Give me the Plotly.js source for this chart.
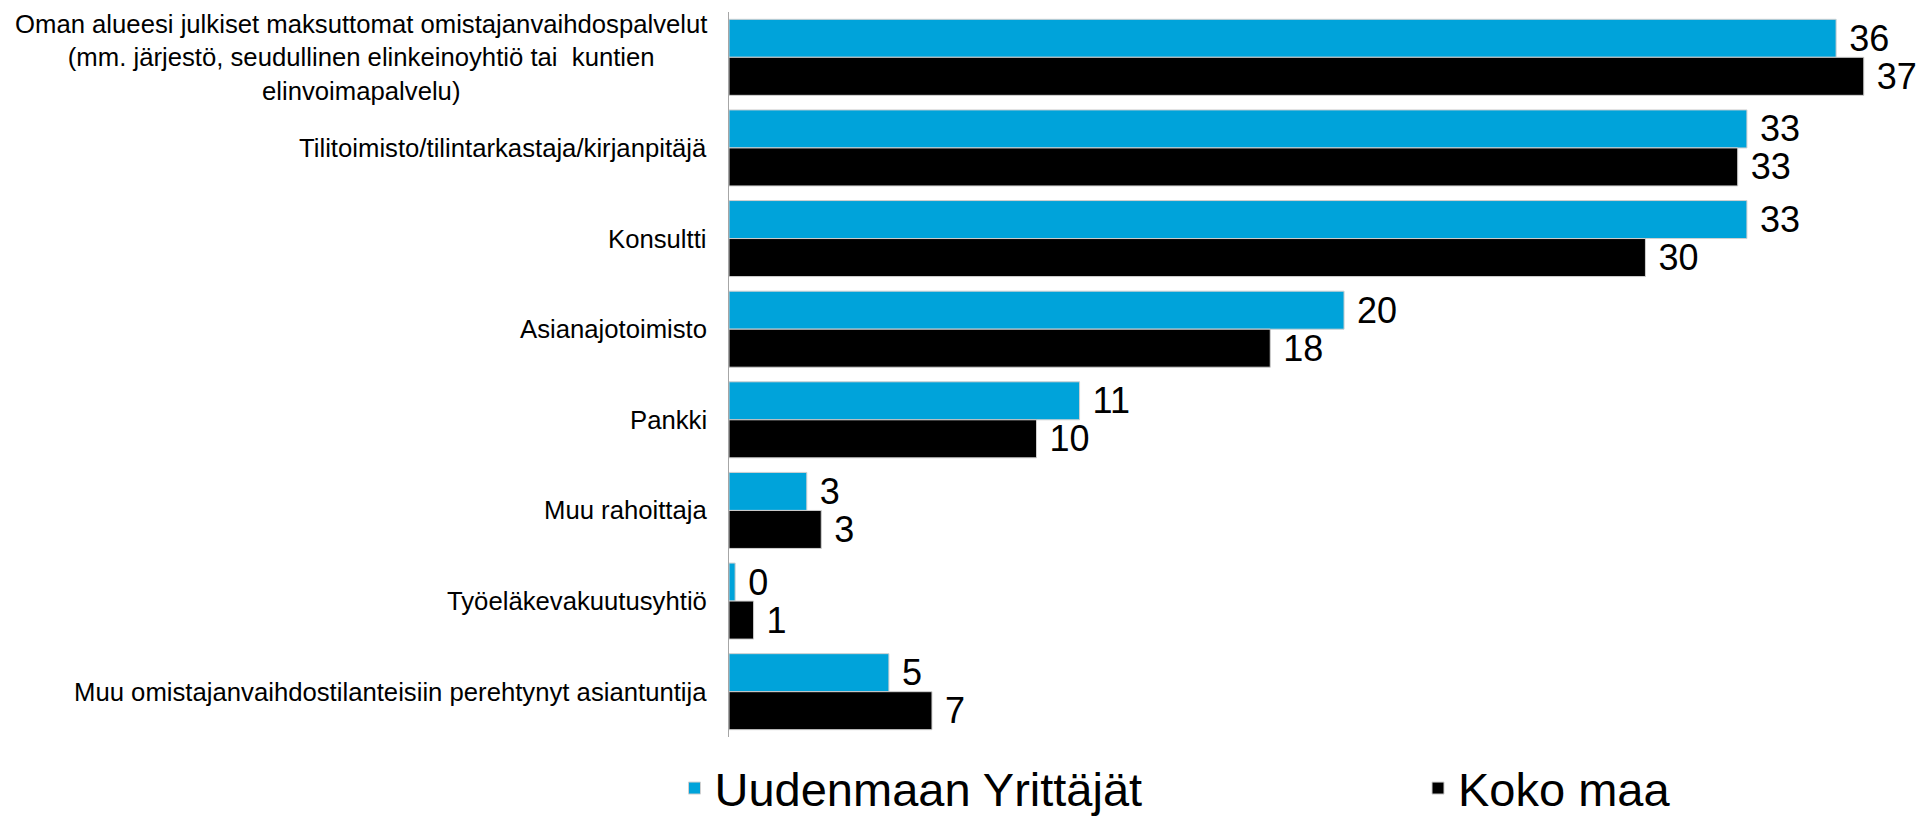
<!DOCTYPE html>
<html>
<head>
<meta charset="utf-8">
<script src="https://cdn.plot.ly/plotly-3.0.1.min.js"></script>
<style>html,body{margin:0;padding:0;background:#fff;}#chart{width:1921px;height:816px;}</style>
</head>
<body>
<div id="chart"></div>
<script>
var categories = [
  'Oman alueesi julkiset maksuttomat omistajanvaihdospalvelut<br>(mm. järjestö, seudullinen elinkeinoyhtiö tai  kuntien<br>elinvoimapalvelu)',
  'Tilitoimisto/tilintarkastaja/kirjanpitäjä',
  'Konsultti',
  'Asianajotoimisto',
  'Pankki',
  'Muu rahoittaja',
  'Työeläkevakuutusyhtiö',
  'Muu omistajanvaihdostilanteisiin perehtynyt asiantuntija'
];
var seriesNames = ['Uudenmaan Yrittäjät', 'Koko maa'];
var uudenmaanValues = [36.0, 33.1, 33.1, 20.0, 11.4, 2.53, 0.2, 5.2];
var kokoMaaValues = [36.9, 32.8, 29.8, 17.6, 10.0, 3.0, 0.8, 6.6];

var FONT = 'Liberation Sans, Arial, sans-serif';

function barTrace(name, values, color, legendId) {
  return {
    type: 'bar',
    orientation: 'h',
    name: name,
    legend: legendId,
    y: categories,
    x: values,
    marker: {color: color, line: {color: '#D0D0D0', width: 1}},
    texttemplate: '\u00A0%{x:.0f}',
    textposition: 'outside',
    textfont: {family: FONT, size: 36, color: '#000000'},
    constraintext: 'none',
    cliponaxis: false,
    hoverinfo: 'x+y'
  };
}

var data = [
  barTrace(seriesNames[0], uudenmaanValues, '#00A3DA', 'legend'),
  barTrace(seriesNames[1], kokoMaaValues, '#000000', 'legend2')
];

var annotations = categories.map(function (c) {
  return {
    text: c,
    xref: 'paper', x: 0, xanchor: 'right', xshift: -20,
    yref: 'y', y: c, yanchor: 'middle',
    align: 'center',
    showarrow: false,
    font: {family: FONT, size: 25.7, color: '#000000'}
  };
});

function legendBox(xPx) {
  return {
    orientation: 'h',
    xref: 'container', yref: 'container',
    x: xPx / 1921, xanchor: 'left',
    y: 1 - 751 / 816, yanchor: 'top',
    font: {family: FONT, size: 47, color: '#000000'},
    bgcolor: 'rgba(0,0,0,0)',
    borderwidth: 0
  };
}

var layout = {
  width: 1921,
  height: 816,
  margin: {l: 729, r: 8, t: 12, b: 79, pad: 0, autoexpand: false},
  paper_bgcolor: '#ffffff',
  plot_bgcolor: '#ffffff',
  font: {family: FONT, color: '#000000'},
  barmode: 'group',
  bargap: 0.161,
  bargroupgap: 0,
  xaxis: {
    range: [0, 38.5],
    showgrid: false, zeroline: false, showline: false,
    showticklabels: false, ticks: ''
  },
  yaxis: {
    type: 'category',
    autorange: false,
    range: [categories.length - 0.5, -0.5],
    showgrid: false, zeroline: false,
    showline: true, linecolor: '#A6A6A6', linewidth: 1.5,
    showticklabels: false, ticks: ''
  },
  showlegend: true,
  legend: legendBox(674.5),
  legend2: legendBox(1418),
  annotations: annotations
};

Plotly.newPlot('chart', data, layout, {displayModeBar: false, staticPlot: true});
</script>
</body>
</html>
